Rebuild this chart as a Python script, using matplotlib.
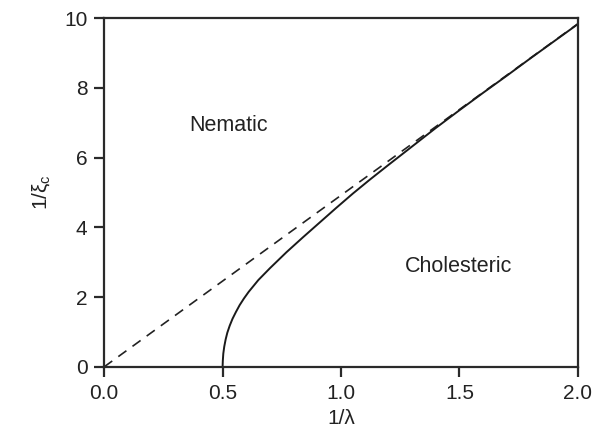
import numpy as np
import matplotlib.pyplot as plt

plt.rcParams['font.family'] = ['Liberation Sans', 'DejaVu Sans']
plt.rcParams['mathtext.fontset'] = 'custom'
plt.rcParams['mathtext.rm'] = 'Liberation Sans'

# dashed asymptote
dash_x = [0.0, 2.0]
dash_y = [0.0, 9.84]

# solid phase boundary
curve_x = [0.500, 0.501, 0.503, 0.507, 0.513, 0.520, 0.530, 0.542, 0.556, 0.572,
           0.590, 0.610, 0.651, 0.700, 0.770, 0.840, 0.910, 0.980, 1.050, 1.120,
           1.200, 1.300, 1.400, 1.500, 1.600, 1.700, 1.800, 1.900, 2.000]
curve_y = [0.00, 0.18, 0.38, 0.58, 0.79, 0.98, 1.18, 1.38, 1.57, 1.77,
           1.96, 2.15, 2.49, 2.83, 3.29, 3.72, 4.14, 4.56, 4.97, 5.36,
           5.79, 6.32, 6.85, 7.36, 7.86, 8.35, 8.85, 9.34, 9.83]

fig = plt.figure(figsize=(6.09, 4.42), dpi=100)
ax = fig.add_axes([0.171, 0.170, 0.778, 0.789])

ax.plot(dash_x, dash_y, color='#222222', lw=1.2, dashes=(6, 4.5))
ax.plot(curve_x, curve_y, color='#1a1a1a', lw=1.4)

ax.text(0.527, 6.93, 'Nematic', fontsize=15.5, ha='center', va='center', color='#222222')
ax.text(1.498, 2.87, 'Cholesteric', fontsize=15.5, ha='center', va='center', color='#222222')

ax.set_xlim(0, 2)
ax.set_ylim(0, 10)
ax.set_xticks([0.0, 0.5, 1.0, 1.5, 2.0])
ax.set_xticklabels(['0.0', '0.5', '1.0', '1.5', '2.0'])
ax.set_yticks([0, 2, 4, 6, 8, 10])

for s in ax.spines.values():
    s.set_linewidth(1.6)
    s.set_color('#2a2a2a')
ax.tick_params(direction='out', length=7, width=1.6, color='#2a2a2a',
               labelsize=15, labelcolor='#222222', pad=5)

ax.set_xlabel('1/λ', fontsize=15, color='#222222', labelpad=5)
ax.set_ylabel(r'1/ξ$_\mathrm{c}$', fontsize=15, color='#222222', labelpad=8)

plt.savefig('out.png', dpi=100)
